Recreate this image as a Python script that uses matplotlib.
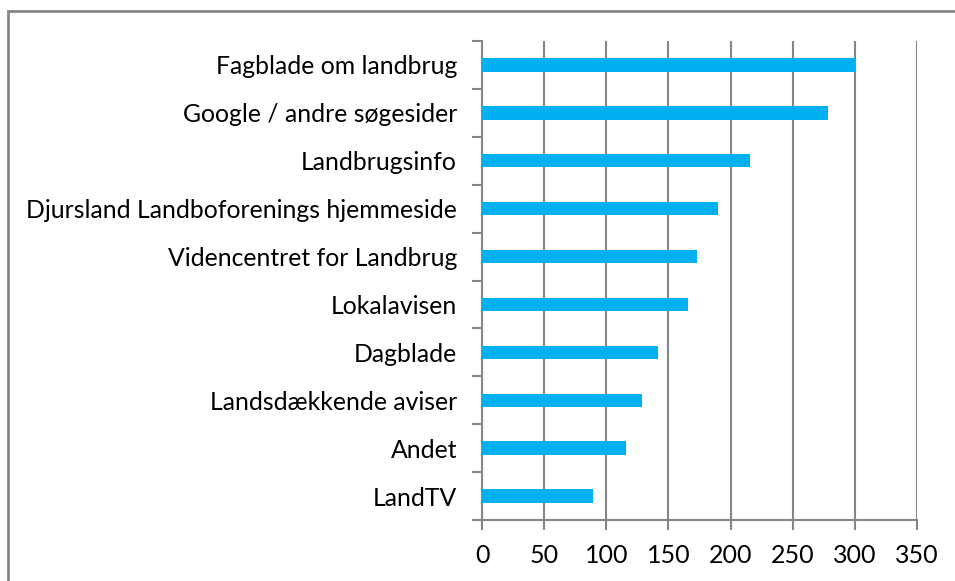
import matplotlib
matplotlib.use("Agg")
from matplotlib import pyplot as plt
from matplotlib.patches import Rectangle
import numpy as np

# categories from bottom to top
categories = ["LandTV", "Andet", "Landsdækkende aviser", "Dagblade", "Lokalavisen",
              "Videncentret for Landbrug", "Djursland Landboforenings hjemmeside",
              "Landbrugsinfo", "Google / andre søgesider", "Fagblade om landbrug"]
values = [89, 116, 129, 142, 166, 173, 190, 216, 278, 300]
xticks = [0, 50, 100, 150, 200, 250, 300, 350]

plt.rcParams['font.family'] = ['Lato', 'DejaVu Sans']
grey = "#868686"

fig = plt.figure(figsize=(9.55, 5.81), dpi=100)
ax = fig.add_axes([482/955, 1-520/581, 435/955, 479/581])

y = np.arange(len(categories))
ax.barh(y, values, height=0.28, color="#00B0F0", zorder=3)

ax.set_xlim(0, 350)
ax.set_ylim(-0.5, len(categories) - 0.5)
ax.set_xticks(xticks)
ax.set_xticklabels([str(t) for t in xticks])
ax.set_yticks(y)
ax.set_yticklabels(categories)
ax.set_yticks(np.arange(len(categories) + 1) - 0.5, minor=True)

ax.grid(axis="x", color=grey, linewidth=1.5, zorder=0)
for s in ["top", "right"]:
    ax.spines[s].set_visible(False)
for s in ["left", "bottom"]:
    ax.spines[s].set_color(grey)
    ax.spines[s].set_linewidth(1.5)

ax.tick_params(axis="y", which="major", length=0, pad=18, labelsize=17.8)
ax.tick_params(axis="y", which="minor", length=7, width=1.5, color=grey)
ax.tick_params(axis="x", length=7, width=1.5, color=grey, labelsize=18, pad=10)

# outer chart border
fig.patches.append(Rectangle((8/955, -0.1), 1.2, 1 - 11/581 + 0.1, transform=fig.transFigure,
                             fill=False, edgecolor=grey, linewidth=2))

fig.savefig("out.png", dpi=100)
